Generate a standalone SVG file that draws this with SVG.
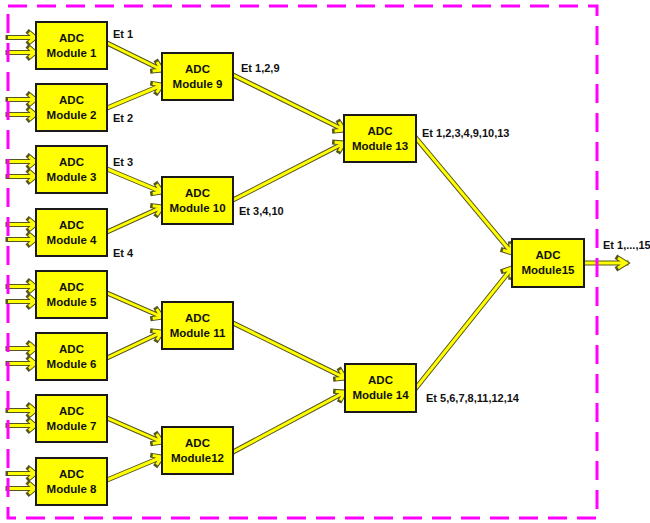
<svg xmlns="http://www.w3.org/2000/svg" xmlns:xlink="http://www.w3.org/1999/xlink" width="650" height="523" viewBox="0 0 650 523">
<style>
.o{fill:none;stroke:#55551f;stroke-width:5;stroke-linejoin:miter;stroke-linecap:square}
.f{fill:none;stroke:#ffff00;stroke-width:3;stroke-linejoin:miter;stroke-linecap:butt}
.box{fill:#ffff00;stroke:#1a1a1a;stroke-width:2}
.bt{font-family:"Liberation Sans",Arial,Helvetica,sans-serif;font-weight:bold;font-size:11.5px;fill:#111;text-anchor:middle}
.lb{font-family:"Liberation Sans",Arial,Helvetica,sans-serif;font-weight:bold;font-size:11px;fill:#111}
.frame{fill:none;stroke:#ff00ff;stroke-width:3;stroke-dasharray:19 10}
</style>
<defs>
<path id="i1a" d="M8 37.5H35M29 32.5L35 37.5L29 42.5"/>
<path id="i1b" d="M8 52.5H35M29 47.5L35 52.5L29 57.5"/>
<path id="i2a" d="M8 99.5H35M29 94.5L35 99.5L29 104.5"/>
<path id="i2b" d="M8 114.5H35M29 109.5L35 114.5L29 119.5"/>
<path id="i3a" d="M8 161.5H35M29 156.5L35 161.5L29 166.5"/>
<path id="i3b" d="M8 176.5H35M29 171.5L35 176.5L29 181.5"/>
<path id="i4a" d="M8 224.5H35M29 219.5L35 224.5L29 229.5"/>
<path id="i4b" d="M8 239.5H35M29 234.5L35 239.5L29 244.5"/>
<path id="i5a" d="M8 286.5H35M29 281.5L35 286.5L29 291.5"/>
<path id="i5b" d="M8 301.5H35M29 296.5L35 301.5L29 306.5"/>
<path id="i6a" d="M8 348.5H35M29 343.5L35 348.5L29 353.5"/>
<path id="i6b" d="M8 363.5H35M29 358.5L35 363.5L29 368.5"/>
<path id="i7a" d="M8 410.5H35M29 405.5L35 410.5L29 415.5"/>
<path id="i7b" d="M8 425.5H35M29 420.5L35 425.5L29 430.5"/>
<path id="i8a" d="M8 473.5H35M29 468.5L35 473.5L29 478.5"/>
<path id="i8b" d="M8 488.5H35M29 483.5L35 488.5L29 493.5"/>
<path id="e1_9" d="M107 43L162 70M152.6 71L162 70L157 62"/>
<path id="e2_9" d="M107 108L162 85M156.6 92.7L162 85L152.7 83.5"/>
<path id="e3_10" d="M107 169L162 192M152.7 193.5L162 192L156.6 184.3"/>
<path id="e4_10" d="M107 232L162 207M156.8 214.9L162 207L152.7 205.8"/>
<path id="e5_11" d="M107 293L162 317M152.7 318.4L162 317L156.7 309.2"/>
<path id="e6_11" d="M107 358L162 332M156.9 339.9L162 332L152.6 330.9"/>
<path id="e7_12" d="M107 418L162 442M152.7 443.4L162 442L156.7 434.2"/>
<path id="e8_12" d="M107 480L162 457M156.6 464.7L162 457L152.7 455.5"/>
<path id="e9_13" d="M233 75L344 130M334.6 130.9L344 130L339 122"/>
<path id="e10_13" d="M233 200L344 143M339.2 151.1L344 143L334.6 142.2"/>
<path id="e11_14" d="M233 323L345 378M335.6 379L345 378L340 370"/>
<path id="e12_14" d="M233 452L345 392M340.3 400.2L345 392L335.6 391.4"/>
<path id="e13_15" d="M416 138L512 253M503 250.1L512 253L510.7 243.7"/>
<path id="e14_15" d="M416 388L512 268M510.9 277.4L512 268L503.1 271.1"/>
<path id="eout" d="M584 263H626M618 258L626 263L618 268"/>
</defs>
<g id="connectors">
<use href="#i1a" class="o"/><use href="#i1a" class="f"/>
<use href="#i1b" class="o"/><use href="#i1b" class="f"/>
<use href="#i2a" class="o"/><use href="#i2a" class="f"/>
<use href="#i2b" class="o"/><use href="#i2b" class="f"/>
<use href="#i3a" class="o"/><use href="#i3a" class="f"/>
<use href="#i3b" class="o"/><use href="#i3b" class="f"/>
<use href="#i4a" class="o"/><use href="#i4a" class="f"/>
<use href="#i4b" class="o"/><use href="#i4b" class="f"/>
<use href="#i5a" class="o"/><use href="#i5a" class="f"/>
<use href="#i5b" class="o"/><use href="#i5b" class="f"/>
<use href="#i6a" class="o"/><use href="#i6a" class="f"/>
<use href="#i6b" class="o"/><use href="#i6b" class="f"/>
<use href="#i7a" class="o"/><use href="#i7a" class="f"/>
<use href="#i7b" class="o"/><use href="#i7b" class="f"/>
<use href="#i8a" class="o"/><use href="#i8a" class="f"/>
<use href="#i8b" class="o"/><use href="#i8b" class="f"/>
<use href="#e1_9" class="o"/><use href="#e1_9" class="f"/>
<use href="#e2_9" class="o"/><use href="#e2_9" class="f"/>
<use href="#e3_10" class="o"/><use href="#e3_10" class="f"/>
<use href="#e4_10" class="o"/><use href="#e4_10" class="f"/>
<use href="#e5_11" class="o"/><use href="#e5_11" class="f"/>
<use href="#e6_11" class="o"/><use href="#e6_11" class="f"/>
<use href="#e7_12" class="o"/><use href="#e7_12" class="f"/>
<use href="#e8_12" class="o"/><use href="#e8_12" class="f"/>
<use href="#e9_13" class="o"/><use href="#e9_13" class="f"/>
<use href="#e10_13" class="o"/><use href="#e10_13" class="f"/>
<use href="#e11_14" class="o"/><use href="#e11_14" class="f"/>
<use href="#e12_14" class="o"/><use href="#e12_14" class="f"/>
<use href="#e13_15" class="o"/><use href="#e13_15" class="f"/>
<use href="#e14_15" class="o"/><use href="#e14_15" class="f"/>
<use href="#eout" class="o"/><use href="#eout" class="f"/>
<text class="lb" x="113" y="38">Et 1</text>
<text class="lb" x="113" y="122">Et 2</text>
<text class="lb" x="113" y="166">Et 3</text>
<text class="lb" x="113" y="257">Et 4</text>
<text class="lb" x="241" y="72">Et 1,2,9</text>
<text class="lb" x="239" y="215">Et 3,4,10</text>
<text class="lb" x="422" y="137">Et 1,2,3,4,9,10,13</text>
<text class="lb" x="426" y="402">Et 5,6,7,8,11,12,14</text>
<text class="lb" x="603" y="249">Et 1,...,15</text>
</g>
<g id="m1"><rect class="box" x="36" y="22" width="71" height="47"/><text class="bt" x="71.5" y="42">ADC</text><text class="bt" x="71.5" y="57">Module 1</text></g>
<g id="m2"><rect class="box" x="36" y="84" width="71" height="47"/><text class="bt" x="71.5" y="104">ADC</text><text class="bt" x="71.5" y="119">Module 2</text></g>
<g id="m3"><rect class="box" x="36" y="146" width="71" height="47"/><text class="bt" x="71.5" y="166">ADC</text><text class="bt" x="71.5" y="181">Module 3</text></g>
<g id="m4"><rect class="box" x="36" y="209" width="71" height="47"/><text class="bt" x="71.5" y="229">ADC</text><text class="bt" x="71.5" y="244">Module 4</text></g>
<g id="m5"><rect class="box" x="36" y="271" width="71" height="47"/><text class="bt" x="71.5" y="291">ADC</text><text class="bt" x="71.5" y="306">Module 5</text></g>
<g id="m6"><rect class="box" x="36" y="333" width="71" height="47"/><text class="bt" x="71.5" y="353">ADC</text><text class="bt" x="71.5" y="368">Module 6</text></g>
<g id="m7"><rect class="box" x="36" y="395" width="71" height="47"/><text class="bt" x="71.5" y="415">ADC</text><text class="bt" x="71.5" y="430">Module 7</text></g>
<g id="m8"><rect class="box" x="36" y="458" width="71" height="47"/><text class="bt" x="71.5" y="478">ADC</text><text class="bt" x="71.5" y="493">Module 8</text></g>
<g id="m9"><rect class="box" x="162" y="53" width="71" height="47"/><text class="bt" x="197.5" y="73">ADC</text><text class="bt" x="197.5" y="88">Module 9</text></g>
<g id="m10"><rect class="box" x="162" y="177" width="71" height="47"/><text class="bt" x="197.5" y="197">ADC</text><text class="bt" x="197.5" y="212">Module 10</text></g>
<g id="m11"><rect class="box" x="162" y="302" width="71" height="47"/><text class="bt" x="197.5" y="322">ADC</text><text class="bt" x="197.5" y="337">Module 11</text></g>
<g id="m12"><rect class="box" x="162" y="427" width="71" height="47"/><text class="bt" x="197.5" y="447">ADC</text><text class="bt" x="197.5" y="462">Module12</text></g>
<g id="m13"><rect class="box" x="344" y="115" width="72" height="47"/><text class="bt" x="380" y="135">ADC</text><text class="bt" x="380" y="150">Module 13</text></g>
<g id="m14"><rect class="box" x="345" y="364" width="71" height="48"/><text class="bt" x="380.5" y="384">ADC</text><text class="bt" x="380.5" y="399">Module 14</text></g>
<g id="m15"><rect class="box" x="512" y="239" width="72" height="48"/><text class="bt" x="548" y="259">ADC</text><text class="bt" x="548" y="274">Module15</text></g>
<rect class="frame" x="8" y="6" width="589" height="512"/>
</svg>
